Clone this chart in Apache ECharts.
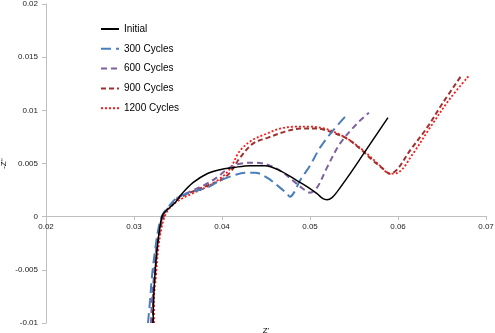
<!DOCTYPE html>
<html>
<head>
<meta charset="utf-8">
<script src="https://cdn.jsdelivr.net/npm/echarts@6/dist/echarts.min.js"></script>
<style>html,body{margin:0;padding:0;background:#fff}#c{width:495px;height:333px}</style>
</head>
<body>
<div id="c"></div>
<script>
const seriesNames = ['Initial', '300 Cycles', '600 Cycles', '900 Cycles', '1200 Cycles'];
const xTicks = [0.02, 0.03, 0.04, 0.05, 0.06, 0.07];
const yTicks = [-0.01, -0.005, 0, 0.005, 0.01, 0.015, 0.02];

const initialX = [0.03216,0.03227,0.0325,0.03273,0.03307,0.03335,0.03466,0.03545,0.0367,0.0383,0.03977,0.04125,0.04318,0.04489,0.04659,0.04852,0.04966,0.0508,0.05148,0.05193,0.0525,0.05318,0.05432,0.05602,0.05886];
const initialY = [-0.0100,-0.00696,-0.00414,-0.00226,-0.00038,0.0003,0.0013,0.00216,0.0032,0.00404,0.00442,0.00461,0.0048,0.0048,0.00433,0.00339,0.00282,0.00216,0.00169,0.0016,0.00179,0.00245,0.00376,0.00583,0.00931];

const c300X = [0.03159,0.03182,0.03205,0.03239,0.03273,0.03318,0.03386,0.03489,0.03636,0.0383,0.03977,0.04125,0.04261,0.04375,0.04511,0.04659,0.04739,0.04773,0.04818,0.04886,0.05,0.05114,0.05261,0.05432];
const c300Y = [-0.0100,-0.0079,-0.00555,-0.0032,-0.00132,0.0001,0.00085,0.00179,0.00226,0.00273,0.00339,0.00386,0.00414,0.00414,0.00367,0.00273,0.00216,0.00188,0.00226,0.00339,0.0048,0.00649,0.00809,0.00969];

const c600X = [0.03193,0.03205,0.03227,0.0325,0.03284,0.0333,0.03398,0.035,0.03636,0.03807,0.03955,0.04068,0.04205,0.04375,0.04545,0.04693,0.04807,0.0492,0.05,0.0508,0.05193,0.05341,0.05534,0.0567];
const c600Y = [-0.0100,-0.0079,-0.00555,-0.0032,-0.00132,0.0001,0.00094,0.00179,0.00235,0.00301,0.00376,0.00451,0.00498,0.00508,0.0048,0.00414,0.00339,0.00263,0.00226,0.00273,0.00461,0.00687,0.00875,0.00978];

const c900X = [0.03216,0.03216,0.03239,0.03261,0.03295,0.03341,0.03409,0.035,0.03636,0.0383,0.03977,0.04091,0.04205,0.04352,0.04523,0.04716,0.04886,0.0508,0.05261,0.0542,0.05568,0.05716,0.0583,0.05909,0.05989,0.06136,0.0633,0.06511,0.06727];
const c900Y = [-0.0100,-0.0079,-0.00555,-0.0032,-0.00132,0.0001,0.00103,0.00169,0.00226,0.00292,0.00339,0.00414,0.00555,0.00687,0.00743,0.008,0.00828,0.00828,0.0079,0.00734,0.0064,0.00527,0.00451,0.00404,0.00442,0.00621,0.00837,0.01072,0.01335];

const c1200X = [0.03227,0.03227,0.0325,0.03273,0.03307,0.03352,0.0342,0.03523,0.03659,0.0383,0.03977,0.04091,0.04205,0.04352,0.04511,0.04659,0.0483,0.05,0.0517,0.05341,0.05477,0.05648,0.05795,0.05909,0.06,0.0617,0.06364,0.06591,0.06807];
const c1200Y = [-0.0100,-0.0079,-0.00555,-0.0032,-0.00132,0.0001,0.00094,0.0016,0.00216,0.00282,0.00357,0.00451,0.00621,0.00724,0.00781,0.00828,0.00846,0.00846,0.00828,0.00771,0.00705,0.00592,0.0048,0.00404,0.00414,0.00592,0.00837,0.0111,0.01326];

function pairs(xs, ys) { return xs.map((x, i) => [x, ys[i]]); }
const allX = [initialX, c300X, c600X, c900X, c1200X];
const allY = [initialY, c300Y, c600Y, c900Y, c1200Y];
const colors = ['#000000', '#4A7EBB', '#7D60A0', '#A0302D', '#FF1A1A'];
const dashes = ['solid', [10, 5], [6, 4], [5, 3], [2, 2]];
const widths = [1.5, 2, 2, 2, 1.8];

const chart = echarts.init(document.getElementById('c'));
const fmt = v => { const s = +(+v).toFixed(3); return yTicks.concat(xTicks).includes(s) ? String(s) : ''; };
chart.setOption({
  animation: false,
  textStyle: { fontFamily: 'Liberation Sans' },
  grid: { left: 46, right: 9, top: 4, bottom: 10, containLabel: false, outerBoundsMode: 'none' },
  legend: {
    orient: 'vertical', left: 95, top: 19, itemWidth: 18, itemHeight: 10, itemGap: 9.8,
    itemStyle: { opacity: 0 },
    textStyle: { fontSize: 10, color: '#000' },
    data: seriesNames
  },
  xAxis: {
    type: 'value', min: xTicks[0], max: xTicks[xTicks.length - 1], interval: 0.01,
    position: 'bottom', offset: -107,
    name: "Z'", nameLocation: 'middle', nameGap: 111, nameMoveOverlap: false,
    nameTextStyle: { fontSize: 8, color: '#000' },
    axisLine: { onZero: false, lineStyle: { color: '#BFBFBF', width: 1 } },
    axisTick: { show: true, length: 4, lineStyle: { color: '#BFBFBF' } },
    axisLabel: { fontSize: 8, color: '#222', margin: 7, formatter: fmt },
    splitLine: { show: false }
  },
  yAxis: {
    type: 'value', min: yTicks[0], max: yTicks[yTicks.length - 1], interval: 0.005,
    name: "-Z''", nameLocation: 'middle', nameGap: 38, nameRotate: 90, nameMoveOverlap: false,
    nameTextStyle: { fontSize: 8, color: '#000' },
    axisLine: { show: true, lineStyle: { color: '#BFBFBF', width: 1 } },
    axisTick: { show: true, length: 4, lineStyle: { color: '#BFBFBF' } },
    axisLabel: { fontSize: 8, color: '#222', margin: 8, formatter: fmt },
    splitLine: { show: false }
  },
  series: seriesNames.map((n, i) => ({
    name: n, type: 'line', data: pairs(allX[i], allY[i]),
    showSymbol: false, symbol: 'none', smooth: 0.35,
    color: colors[i],
    lineStyle: { color: colors[i], width: widths[i], type: dashes[i] },
    z: 10 - i
  }))
});
</script>
</body>
</html>
